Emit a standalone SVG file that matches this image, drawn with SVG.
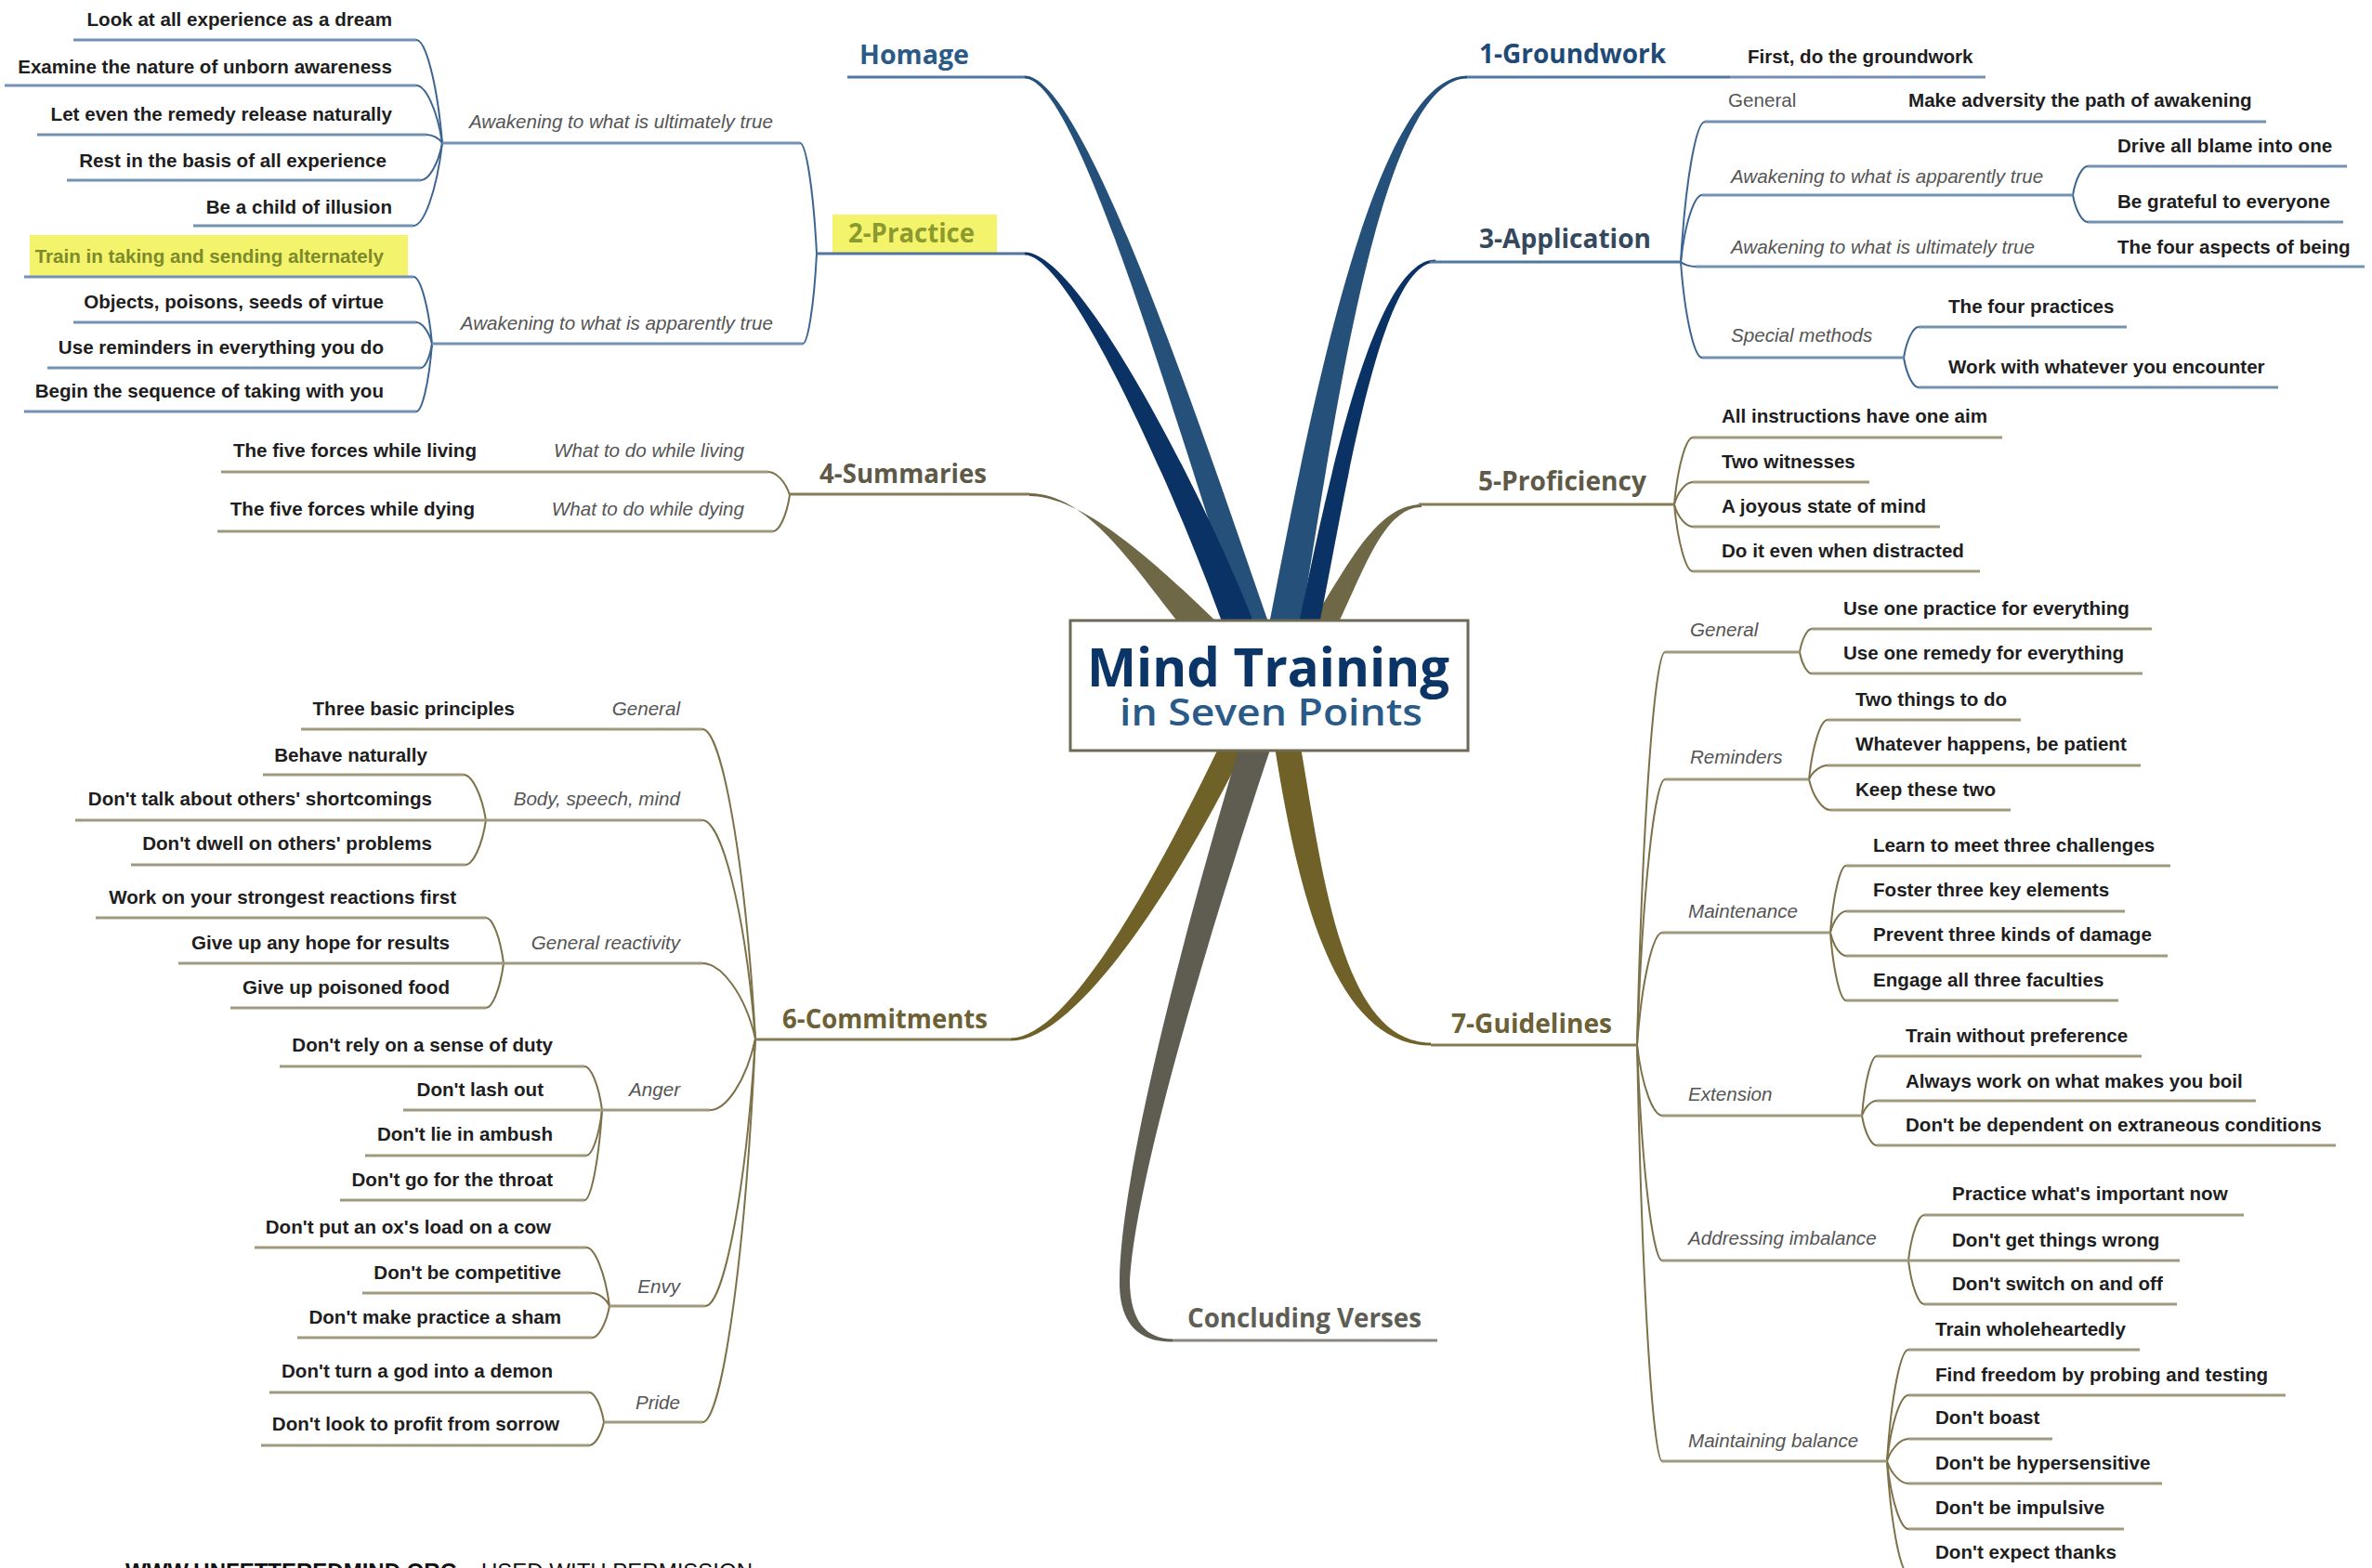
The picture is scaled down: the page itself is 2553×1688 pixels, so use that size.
<svg xmlns="http://www.w3.org/2000/svg" width="2553" height="1688" viewBox="0 0 2553 1688">
<style>
.lf{font-family:"Liberation Sans",Arial,sans-serif;font-weight:bold;font-size:20.6px;fill:#1e1e1e}
.r{text-anchor:end}
.ct{font-family:"Liberation Sans",Arial,sans-serif;font-style:italic;font-size:20.6px;fill:#555}
.cu{font-family:"Liberation Sans",Arial,sans-serif;font-size:20.6px;fill:#555}
.mn{font-family:"Open Sans","Liberation Sans",sans-serif;font-weight:700;font-size:28px}
.ub{stroke:#7391b3;stroke-width:3;fill:none}
.uo{stroke:#a09a7d;stroke-width:3;fill:none}
.cb{stroke:#3d6592;stroke-width:2;fill:none}
.co{stroke:#7c7148;stroke-width:2;fill:none}
.mb{stroke:#52769e;stroke-width:3;fill:none}
.mo{stroke:#857c56;stroke-width:3;fill:none}
.hl{fill:#f4f46c}
.ft{font-family:"Liberation Sans",Arial,sans-serif;font-size:24px;fill:#111}
</style>
<rect width="2553" height="1688" fill="#ffffff"/>

<g id="connectors">
  <!-- trunks -->
  <path fill="#6e6846" d="M1270 672 C1220 610 1170 531 1108 531 L1108 534 C1168 534 1250 612 1312 672 Z"/>
  <path fill="#6e6846" d="M1410 672 C1450 612 1480 543 1530 543 L1530 546 C1490 546 1468 614 1440 672 Z"/>
  <path fill="#24507a" d="M1366 672 C1298 478 1168 81.5 1103 81.5 L1103 84.5 C1162 84.5 1272 482 1338 672 Z"/>
  <path fill="#0b3264" d="M1350 672 C1306 556 1165 271.5 1103 271.5 L1103 274.5 C1155 274.5 1278 564 1316 672 Z"/>
  <path fill="#24507a" d="M1366 672 C1406 468 1476 81.5 1579 81.5 L1579 84.5 C1484 84.5 1434 472 1400 672 Z"/>
  <path fill="#0b3264" d="M1398 672 C1425 543 1476 279.5 1545 279.5 L1545 282.5 C1484 282.5 1446 547 1420 672 Z"/>
  <path fill="#6f6127" d="M1340 804 C1282 924 1165 1120.5 1088 1120.5 L1088 1117.5 C1155 1117.5 1258 916 1312 804 Z"/>
  <path fill="#5f5d52" d="M1334 804 C1305 900 1203 1250 1205 1385 Q1207 1445 1262 1444.5 L1262 1441.5 Q1217 1441 1216 1380 C1222 1250 1336 900 1368 804 Z"/>
  <path fill="#6f6127" d="M1400 804 C1424 946 1446 1122.5 1540 1122.5 L1540 1125.5 C1434 1125.5 1396 954 1372 804 Z"/>

  <!-- 2-Practice -->
  <path class="cb" d="M879 273 c-3.6 -71.4 -11.7 -119 -18 -119"/>
  <path class="cb" d="M879 273 c-3 58.2 -9.75 97 -15 97"/>
  <path class="cb" d="M476 154 c-5.6 -66.6 -18.2 -111 -28 -111"/>
  <path class="cb" d="M476 154 c-5.6 -37.2 -18.2 -62 -28 -62"/>
  <path class="cb" d="M476 154 c-3.4 -5.4 -11.05 -9 -17 -9"/>
  <path class="cb" d="M476 154 c-4.6 24 -14.95 40 -23 40"/>
  <path class="cb" d="M476 154 c-6.2 53.4 -20.15 89 -31 89"/>
  <path class="cb" d="M465 370 c-4 -43.2 -13 -72 -20 -72"/>
  <path class="cb" d="M465 370 c-3.4 -13.8 -11.05 -23 -17 -23"/>
  <path class="cb" d="M465 370 c-2.4 15.6 -7.8 26 -12 26"/>
  <path class="cb" d="M465 370 c-3.4 43.8 -11.05 73 -17 73"/>

  <!-- 4-Summaries -->
  <path class="co" d="M850 533 c-4.6 -15 -14.95 -25 -23 -25"/>
  <path class="co" d="M850 533 c-3.6 23.4 -11.7 39 -18 39"/>

  <!-- 6-Commitments -->
  <path class="co" d="M813 1118 c-11.4 -199.8 -37.05 -333 -57 -333"/>
  <path class="co" d="M813 1118 c-11.4 -141 -37.05 -235 -57 -235"/>
  <path class="co" d="M813 1118 c-11.4 -48.6 -37.05 -81 -57 -81"/>
  <path class="co" d="M813 1118 c-9.8 46.2 -31.85 77 -49 77"/>
  <path class="co" d="M813 1118 c-10.8 172.8 -35.1 288 -54 288"/>
  <path class="co" d="M813 1118 c-11.4 247.8 -37.05 413 -57 413"/>
  <path class="co" d="M523 883 c-4.8 -29.4 -15.6 -49 -24 -49"/>
  <path class="co" d="M523 883 c-4.4 28.8 -14.3 48 -22 48"/>
  <path class="co" d="M542 1037 c-3.8 -29.4 -12.35 -49 -19 -49"/>
  <path class="co" d="M542 1037 c-3.8 28.8 -12.35 48 -19 48"/>
  <path class="co" d="M648 1195 c-3.8 -28.2 -12.35 -47 -19 -47"/>
  <path class="co" d="M648 1195 c-3.4 29.4 -11.05 49 -17 49"/>
  <path class="co" d="M648 1195 c-3.8 58.2 -12.35 97 -19 97"/>
  <path class="co" d="M656 1406 c-5 -37.8 -16.25 -63 -25 -63"/>
  <path class="co" d="M656 1406 c-3.8 -8.4 -12.35 -14 -19 -14"/>
  <path class="co" d="M656 1406 c-3.8 20.4 -12.35 34 -19 34"/>
  <path class="co" d="M650 1531 c-3.2 -19.2 -10.4 -32 -16 -32"/>
  <path class="co" d="M650 1531 c-3.2 15 -10.4 25 -16 25"/>

  <!-- 3-Application -->
  <path class="cb" d="M1809 282 c5.2 -90.6 16.9 -151 26 -151"/>
  <path class="cb" d="M1809 282 c4.6 -43.2 14.95 -72 23 -72"/>
  <path class="cb" d="M1809 282 c3.2 3 10.4 5 16 5"/>
  <path class="cb" d="M1809 282 c4.6 61.8 14.95 103 23 103"/>
  <path class="cb" d="M2231 210 c3.2 -18.6 10.4 -31 16 -31"/>
  <path class="cb" d="M2231 210 c3.2 17.4 10.4 29 16 29"/>
  <path class="cb" d="M2049 385 c3.2 -19.8 10.4 -33 16 -33"/>
  <path class="cb" d="M2049 385 c3.2 19.2 10.4 32 16 32"/>

  <!-- 5-Proficiency -->
  <path class="co" d="M1802 543 c4 -43.2 13 -72 20 -72"/>
  <path class="co" d="M1802 543 c4 -14.4 13 -24 20 -24"/>
  <path class="co" d="M1802 543 c4 14.4 13 24 20 24"/>
  <path class="co" d="M1802 543 c4 43.2 13 72 20 72"/>

  <!-- 7-Guidelines -->
  <path class="co" d="M1762 1125 c6 -253.8 19.5 -423 30 -423"/>
  <path class="co" d="M1762 1125 c6 -171.6 19.5 -286 30 -286"/>
  <path class="co" d="M1762 1125 c5.4 -72.6 17.55 -121 27 -121"/>
  <path class="co" d="M1762 1125 c5.4 45.6 17.55 76 27 76"/>
  <path class="co" d="M1762 1125 c5.4 139.2 17.55 232 27 232"/>
  <path class="co" d="M1762 1125 c5.4 268.8 17.55 448 27 448"/>
  <path class="co" d="M1937 702 c2.6 -15 8.45 -25 13 -25"/>
  <path class="co" d="M1937 702 c2.6 13.8 8.45 23 13 23"/>
  <path class="co" d="M1947 839 c4 -38.4 13 -64 20 -64"/>
  <path class="co" d="M1947 839 c4 -9 13 -15 20 -15"/>
  <path class="co" d="M1947 839 c4.6 19.8 14.95 33 23 33"/>
  <path class="co" d="M1970 1004 c3.4 -43.2 11.05 -72 17 -72"/>
  <path class="co" d="M1970 1004 c3.4 -13.8 11.05 -23 17 -23"/>
  <path class="co" d="M1970 1004 c3.4 15 11.05 25 17 25"/>
  <path class="co" d="M1970 1004 c3.4 43.8 11.05 73 17 73"/>
  <path class="co" d="M2004 1201 c3.2 -38.4 10.4 -64 16 -64"/>
  <path class="co" d="M2004 1201 c3.2 -9.6 10.4 -16 16 -16"/>
  <path class="co" d="M2004 1201 c3.2 19.2 10.4 32 16 32"/>
  <path class="co" d="M2054 1357 c3.4 -29.4 11.05 -49 17 -49"/>
  <path class="co" d="M2054 1357 c3.4 28.2 11.05 47 17 47"/>
  <path class="co" d="M2031 1573 c4.6 -72 14.95 -120 23 -120"/>
  <path class="co" d="M2031 1573 c4.6 -42.6 14.95 -71 23 -71"/>
  <path class="co" d="M2031 1573 c4.6 -14.4 14.95 -24 23 -24"/>
  <path class="co" d="M2031 1573 c4.6 14.4 14.95 24 23 24"/>
  <path class="co" d="M2031 1573 c4.6 43.8 14.95 73 23 73"/>
  <path class="co" d="M2031 1573 c4.6 72.6 14.95 121 23 121"/>
</g>

<!-- central node -->
<g id="center">
  <rect x="1152" y="668" width="428" height="140" fill="#ffffff" stroke="#6e6a55" stroke-width="3"/>
  <text x="1170" y="739" textLength="390" lengthAdjust="spacingAndGlyphs" style="font-family:'Open Sans','Liberation Sans',sans-serif;font-weight:700;font-size:58px;fill:#0b3566">Mind Training</text>
  <text x="1205" y="781" textLength="326" lengthAdjust="spacingAndGlyphs" style="font-family:'Open Sans','Liberation Sans',sans-serif;font-weight:600;font-size:40px;fill:#2a5a88">in Seven Points</text>
</g>

<!-- main branches -->
<g id="n-homage"><path class="mb" d="M912 83H1103"/><text class="mn" x="925" y="69" textLength="118" lengthAdjust="spacingAndGlyphs" fill="#2a5a85">Homage</text></g>
<g id="n-practice"><rect class="hl" x="896" y="231" width="177" height="42"/><path class="mb" d="M879 273H1103"/><text class="mn" x="913" y="261" textLength="136" lengthAdjust="spacingAndGlyphs" fill="#8a9a2e">2-Practice</text></g>
<g id="n-summaries"><path class="mo" d="M850 532H1108"/><text class="mn" x="882" y="520" textLength="180" lengthAdjust="spacingAndGlyphs" fill="#5e5a47">4-Summaries</text></g>
<g id="n-commitments"><path class="mo" d="M813 1119H1088"/><text class="mn" x="842" y="1107" textLength="221" lengthAdjust="spacingAndGlyphs" fill="#6b6135">6-Commitments</text></g>
<g id="n-concluding"><path class="mo" d="M1262 1443H1547" style="stroke:#8a887c"/><text class="mn" x="1278" y="1429" textLength="252" lengthAdjust="spacingAndGlyphs" fill="#5f5e55">Concluding Verses</text></g>
<g id="n-groundwork"><path class="mb" d="M1579 83H1862"/><text class="mn" x="1592" y="68" textLength="201" lengthAdjust="spacingAndGlyphs" fill="#1f4a75">1-Groundwork</text></g>
<g id="n-application"><path class="mb" d="M1539 282H1809"/><text class="mn" x="1592" y="267" textLength="185" lengthAdjust="spacingAndGlyphs" fill="#34495e">3-Application</text></g>
<g id="n-proficiency"><path class="mo" d="M1527 543H1802"/><text class="mn" x="1591" y="528" textLength="181" lengthAdjust="spacingAndGlyphs" fill="#5e5a47">5-Proficiency</text></g>
<g id="n-guidelines"><path class="mo" d="M1540 1125H1762"/><text class="mn" x="1562" y="1112" textLength="173" lengthAdjust="spacingAndGlyphs" fill="#6b6135">7-Guidelines</text></g>

<!-- 2-Practice subtree -->
<g id="c-ult2"><path class="ub" d="M476 154H861"/><text class="ct r" x="832" y="138">Awakening to what is ultimately true</text></g>
<g id="c-app2"><path class="ub" d="M465 370H864"/><text class="ct r" x="832" y="355">Awakening to what is apparently true</text></g>
<g id="n-look"><path class="ub" d="M79 43H448"/><text class="lf r" x="422" y="28">Look at all experience as a dream</text></g>
<g id="n-examine"><path class="ub" d="M5 92H448"/><text class="lf r" x="422" y="79">Examine the nature of unborn awareness</text></g>
<g id="n-let"><path class="ub" d="M40 145H459"/><text class="lf r" x="422" y="130">Let even the remedy release naturally</text></g>
<g id="n-rest"><path class="ub" d="M72 194H453"/><text class="lf r" x="416" y="180">Rest in the basis of all experience</text></g>
<g id="n-child"><path class="ub" d="M208 243H445"/><text class="lf r" x="422" y="230">Be a child of illusion</text></g>
<g id="n-train"><rect class="hl" x="32" y="253" width="407" height="44"/><path class="ub" d="M26 298H445"/><text class="lf r" x="413" y="283" style="fill:#7d8a2a">Train in taking and sending alternately</text></g>
<g id="n-objects"><path class="ub" d="M79 347H448"/><text class="lf r" x="413" y="332">Objects, poisons, seeds of virtue</text></g>
<g id="n-reminders"><path class="ub" d="M51 396H453"/><text class="lf r" x="413" y="381">Use reminders in everything you do</text></g>
<g id="n-begin"><path class="ub" d="M26 443H448"/><text class="lf r" x="413" y="428">Begin the sequence of taking with you</text></g>

<!-- 4-Summaries subtree -->
<g id="c-living"><path class="uo" d="M530 508H827"/><text class="ct r" x="801" y="492">What to do while living</text></g>
<g id="n-living"><path class="uo" d="M238 508H530"/><text class="lf r" x="513" y="492">The five forces while living</text></g>
<g id="c-dying"><path class="uo" d="M530 572H832"/><text class="ct r" x="801" y="555">What to do while dying</text></g>
<g id="n-dying"><path class="uo" d="M234 572H530"/><text class="lf r" x="511" y="555">The five forces while dying</text></g>

<!-- 6-Commitments subtree -->
<g id="c-general6"><path class="uo" d="M585 785H756"/><text class="ct r" x="732" y="770">General</text></g>
<g id="n-three"><path class="uo" d="M324 785H585"/><text class="lf r" x="554" y="770">Three basic principles</text></g>
<g id="c-body"><path class="uo" d="M523 883H756"/><text class="ct r" x="732" y="867">Body, speech, mind</text></g>
<g id="n-behave"><path class="uo" d="M283 834H499"/><text class="lf r" x="460" y="820">Behave naturally</text></g>
<g id="n-talk"><path class="uo" d="M81 883H523"/><text class="lf r" x="465" y="867">Don't talk about others' shortcomings</text></g>
<g id="n-dwell"><path class="uo" d="M141 931H501"/><text class="lf r" x="465" y="915">Don't dwell on others' problems</text></g>
<g id="c-reactivity"><path class="uo" d="M542 1037H756"/><text class="ct r" x="732" y="1022">General reactivity</text></g>
<g id="n-work"><path class="uo" d="M103 988H523"/><text class="lf r" x="491" y="973">Work on your strongest reactions first</text></g>
<g id="n-hope"><path class="uo" d="M192 1037H542"/><text class="lf r" x="484" y="1022">Give up any hope for results</text></g>
<g id="n-poison"><path class="uo" d="M248 1085H523"/><text class="lf r" x="484" y="1070">Give up poisoned food</text></g>
<g id="c-anger"><path class="uo" d="M648 1195H764"/><text class="ct r" x="732" y="1180">Anger</text></g>
<g id="n-duty"><path class="uo" d="M301 1148H629"/><text class="lf r" x="595" y="1132">Don't rely on a sense of duty</text></g>
<g id="n-lash"><path class="uo" d="M434 1195H648"/><text class="lf r" x="585" y="1180">Don't lash out</text></g>
<g id="n-ambush"><path class="uo" d="M393 1244H631"/><text class="lf r" x="595" y="1228">Don't lie in ambush</text></g>
<g id="n-throat"><path class="uo" d="M366 1292H629"/><text class="lf r" x="595" y="1277">Don't go for the throat</text></g>
<g id="c-envy"><path class="uo" d="M656 1406H759"/><text class="ct r" x="732" y="1392">Envy</text></g>
<g id="n-ox"><path class="uo" d="M274 1343H631"/><text class="lf r" x="593" y="1328">Don't put an ox's load on a cow</text></g>
<g id="n-compet"><path class="uo" d="M390 1392H637"/><text class="lf r" x="604" y="1377">Don't be competitive</text></g>
<g id="n-sham"><path class="uo" d="M320 1440H637"/><text class="lf r" x="604" y="1425">Don't make practice a sham</text></g>
<g id="c-pride"><path class="uo" d="M650 1531H756"/><text class="ct r" x="732" y="1517">Pride</text></g>
<g id="n-god"><path class="uo" d="M290 1499H634"/><text class="lf r" x="595" y="1483">Don't turn a god into a demon</text></g>
<g id="n-profit"><path class="uo" d="M281 1556H634"/><text class="lf r" x="602" y="1540">Don't look to profit from sorrow</text></g>

<!-- 1-Groundwork / 3-Application subtree -->
<g id="n-first"><path class="ub" d="M1862 83H2137"/><text class="lf" x="1881" y="68">First, do the groundwork</text></g>
<g id="c-general3"><path class="ub" d="M1835 131H2049"/><text class="cu" x="1860" y="115">General</text></g>
<g id="n-adversity"><path class="ub" d="M2049 131H2439"/><text class="lf" x="2054" y="115">Make adversity the path of awakening</text></g>
<g id="c-app3"><path class="ub" d="M1832 210H2231"/><text class="ct" x="1863" y="197">Awakening to what is apparently true</text></g>
<g id="n-blame"><path class="ub" d="M2247 179H2526"/><text class="lf" x="2279" y="164">Drive all blame into one</text></g>
<g id="n-grateful"><path class="ub" d="M2247 239H2522"/><text class="lf" x="2279" y="224">Be grateful to everyone</text></g>
<g id="c-ult3"><path class="ub" d="M1825 287H2254"/><text class="ct" x="1863" y="273">Awakening to what is ultimately true</text></g>
<g id="n-aspects"><path class="ub" d="M2254 287H2545"/><text class="lf" x="2279" y="273">The four aspects of being</text></g>
<g id="c-special"><path class="ub" d="M1832 385H2049"/><text class="ct" x="1863" y="368">Special methods</text></g>
<g id="n-fourprac"><path class="ub" d="M2065 352H2289"/><text class="lf" x="2097" y="337">The four practices</text></g>
<g id="n-whatever"><path class="ub" d="M2065 417H2452"/><text class="lf" x="2097" y="402">Work with whatever you encounter</text></g>

<!-- 5-Proficiency subtree -->
<g id="n-aim"><path class="uo" d="M1822 471H2155"/><text class="lf" x="1853" y="455">All instructions have one aim</text></g>
<g id="n-witness"><path class="uo" d="M1822 519H2012"/><text class="lf" x="1853" y="504">Two witnesses</text></g>
<g id="n-joyous"><path class="uo" d="M1822 567H2088"/><text class="lf" x="1853" y="552">A joyous state of mind</text></g>
<g id="n-distract"><path class="uo" d="M1822 615H2131"/><text class="lf" x="1853" y="600">Do it even when distracted</text></g>

<!-- 7-Guidelines subtree -->
<g id="c-general7"><path class="uo" d="M1792 702H1937"/><text class="ct" x="1819" y="685">General</text></g>
<g id="n-onepractice"><path class="uo" d="M1950 677H2316"/><text class="lf" x="1984" y="662">Use one practice for everything</text></g>
<g id="n-oneremedy"><path class="uo" d="M1950 725H2306"/><text class="lf" x="1984" y="710">Use one remedy for everything</text></g>
<g id="c-reminders"><path class="uo" d="M1792 839H1947"/><text class="ct" x="1819" y="822">Reminders</text></g>
<g id="n-twothings"><path class="uo" d="M1967 775H2175"/><text class="lf" x="1997" y="760">Two things to do</text></g>
<g id="n-patient"><path class="uo" d="M1967 824H2304"/><text class="lf" x="1997" y="808">Whatever happens, be patient</text></g>
<g id="n-keep"><path class="uo" d="M1970 872H2164"/><text class="lf" x="1997" y="857">Keep these two</text></g>
<g id="c-maint"><path class="uo" d="M1789 1004H1970"/><text class="ct" x="1817" y="988">Maintenance</text></g>
<g id="n-learn"><path class="uo" d="M1987 932H2336"/><text class="lf" x="2016" y="917">Learn to meet three challenges</text></g>
<g id="n-foster"><path class="uo" d="M1987 981H2287"/><text class="lf" x="2016" y="965">Foster three key elements</text></g>
<g id="n-prevent"><path class="uo" d="M1987 1029H2333"/><text class="lf" x="2016" y="1013">Prevent three kinds of damage</text></g>
<g id="n-engage"><path class="uo" d="M1987 1077H2280"/><text class="lf" x="2016" y="1062">Engage all three faculties</text></g>
<g id="c-extension"><path class="uo" d="M1789 1201H2004"/><text class="ct" x="1817" y="1185">Extension</text></g>
<g id="n-nopref"><path class="uo" d="M2020 1137H2305"/><text class="lf" x="2051" y="1122">Train without preference</text></g>
<g id="n-boil"><path class="uo" d="M2020 1185H2428"/><text class="lf" x="2051" y="1171">Always work on what makes you boil</text></g>
<g id="n-dependent"><path class="uo" d="M2020 1233H2514"/><text class="lf" x="2051" y="1218">Don't be dependent on extraneous conditions</text></g>
<g id="c-addressing"><path class="uo" d="M1789 1357H2054"/><text class="ct" x="1817" y="1340">Addressing imbalance</text></g>
<g id="n-important"><path class="uo" d="M2071 1308H2415"/><text class="lf" x="2101" y="1292">Practice what's important now</text></g>
<g id="n-wrong"><path class="uo" d="M2054 1357H2346"/><text class="lf" x="2101" y="1342">Don't get things wrong</text></g>
<g id="n-switch"><path class="uo" d="M2071 1404H2343"/><text class="lf" x="2101" y="1389">Don't switch on and off</text></g>
<g id="c-maintaining"><path class="uo" d="M1789 1573H2031"/><text class="ct" x="1817" y="1558">Maintaining balance</text></g>
<g id="n-whole"><path class="uo" d="M2054 1453H2303"/><text class="lf" x="2083" y="1438">Train wholeheartedly</text></g>
<g id="n-freedom"><path class="uo" d="M2054 1502H2460"/><text class="lf" x="2083" y="1487">Find freedom by probing and testing</text></g>
<g id="n-boast"><path class="uo" d="M2054 1549H2209"/><text class="lf" x="2083" y="1533">Don't boast</text></g>
<g id="n-hyper"><path class="uo" d="M2054 1597H2327"/><text class="lf" x="2083" y="1582">Don't be hypersensitive</text></g>
<g id="n-impulsive"><path class="uo" d="M2054 1646H2286"/><text class="lf" x="2083" y="1630">Don't be impulsive</text></g>
<g id="n-thanks"><path class="uo" d="M2054 1694H2300"/><text class="lf" x="2083" y="1678">Don't expect thanks</text></g>

<g id="footer">
  <text class="ft" x="135" y="1700" font-weight="bold">WWW.UNFETTEREDMIND.ORG</text>
  <text class="ft" x="518" y="1700">USED WITH PERMISSION</text>
</g>
</svg>
